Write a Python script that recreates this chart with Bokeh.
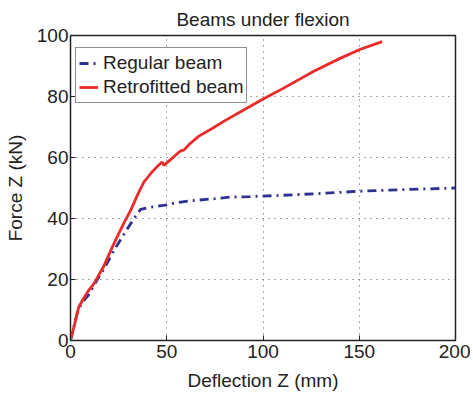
from bokeh.plotting import figure
from bokeh.models import Range1d, Legend, LegendItem, FixedTicker
from bokeh.embed import file_html
from bokeh.resources import INLINE

# Data
regular_x = [0, 3.5, 6, 9.5, 13, 17.3, 23, 29.5, 33, 36.4, 40, 45, 50, 55, 60, 65.8, 75, 83, 93.5, 110, 130, 148.9, 170, 185, 200]
regular_y = [0, 9, 12.5, 15, 19, 23.4, 30, 36.6, 40, 43, 43.5, 44, 44.5, 45.2, 45.6, 46, 46.5, 47, 47.2, 47.6, 48.2, 48.9, 49.4, 49.7, 50]
retro_x = [0, 2, 4.3, 7, 9.5, 12, 17, 22, 27.7, 31.2, 35, 38.1, 42, 45, 47.6, 48.5, 52, 55, 57, 59, 62, 66.7, 73.6, 80, 91.8, 99.6, 110, 126.4, 140, 150.6, 161.9]
retro_y = [0, 5, 11, 14, 16.5, 18.5, 24, 31, 38.5, 42.6, 48, 51.9, 55, 57, 58.5, 57.4, 59.3, 61, 62.1, 62.5, 64.5, 67, 69.5, 72, 76.2, 79, 82.5, 88.3, 92.5, 95.5, 98]
x_ticks = [0, 50, 100, 150, 200]
y_ticks = [0, 20, 40, 60, 80, 100]

FONT = "Liberation Sans"
TXT = "#222222"

p = figure(width=470, height=400, output_backend="svg", toolbar_location=None,
           x_range=Range1d(0, 200), y_range=Range1d(0, 100),
           min_border_left=70, min_border_right=15, min_border_top=35, min_border_bottom=60)

p.title.text = "Beams under flexion"
p.title.align = "center"
p.title.text_font = FONT
p.title.text_font_size = "19px"
p.title.text_font_style = "normal"
p.title.text_color = TXT
p.title.standoff = 12
p.title.text_line_height = 0.5

p.outline_line_color = "#222222"
p.outline_line_width = 1.5

for ax, ticks in ((p.xaxis[0], x_ticks), (p.yaxis[0], y_ticks)):
    ax.ticker = FixedTicker(ticks=ticks)
    ax.major_tick_in = 5
    ax.major_tick_out = 0
    ax.minor_tick_line_color = None
    ax.axis_line_color = "#222222"
    ax.major_tick_line_color = "#222222"
    ax.major_label_text_font = FONT
    ax.major_label_text_font_size = "19px"
    ax.major_label_text_color = TXT
    ax.axis_label_text_font = FONT
    ax.axis_label_text_font_size = "19px"
    ax.axis_label_text_font_style = "normal"
    ax.axis_label_text_color = TXT

p.xaxis.major_label_standoff = 4
p.yaxis.major_label_standoff = 2
p.xaxis.axis_label = "Deflection Z (mm)"
p.yaxis.axis_label = "Force Z (kN)"
p.yaxis.axis_label_standoff = 8
p.xaxis.axis_label_standoff = 9

p.xgrid.ticker = FixedTicker(ticks=x_ticks[1:-1])
p.ygrid.ticker = FixedTicker(ticks=y_ticks[1:-1])
p.grid.grid_line_color = "#555555"
p.grid.grid_line_dash = "1 5"
p.grid.grid_line_width = 1

r1 = p.line(regular_x, regular_y, line_color="#2e3192", line_width=2.8, line_dash="9 5 2 5")
r2 = p.line(retro_x, retro_y, line_color="#ec2a2a", line_width=2.8)

legend = Legend(items=[LegendItem(label="Regular beam", renderers=[r1]),
                       LegendItem(label="Retrofitted beam", renderers=[r2])],
                location=(5, 237))
legend.label_text_font = FONT
legend.label_text_font_size = "19px"
legend.label_text_color = TXT
legend.border_line_color = "#222222"
legend.border_line_width = 1.5
legend.glyph_width = 19
legend.glyph_height = 24
legend.label_height = 24
legend.spacing = 0
legend.padding = 3
legend.margin = 0
legend.label_standoff = 5
legend.background_fill_color = "white"
legend.background_fill_alpha = 1
p.add_layout(legend)

open("out.html", "w").write(file_html(p, INLINE))
